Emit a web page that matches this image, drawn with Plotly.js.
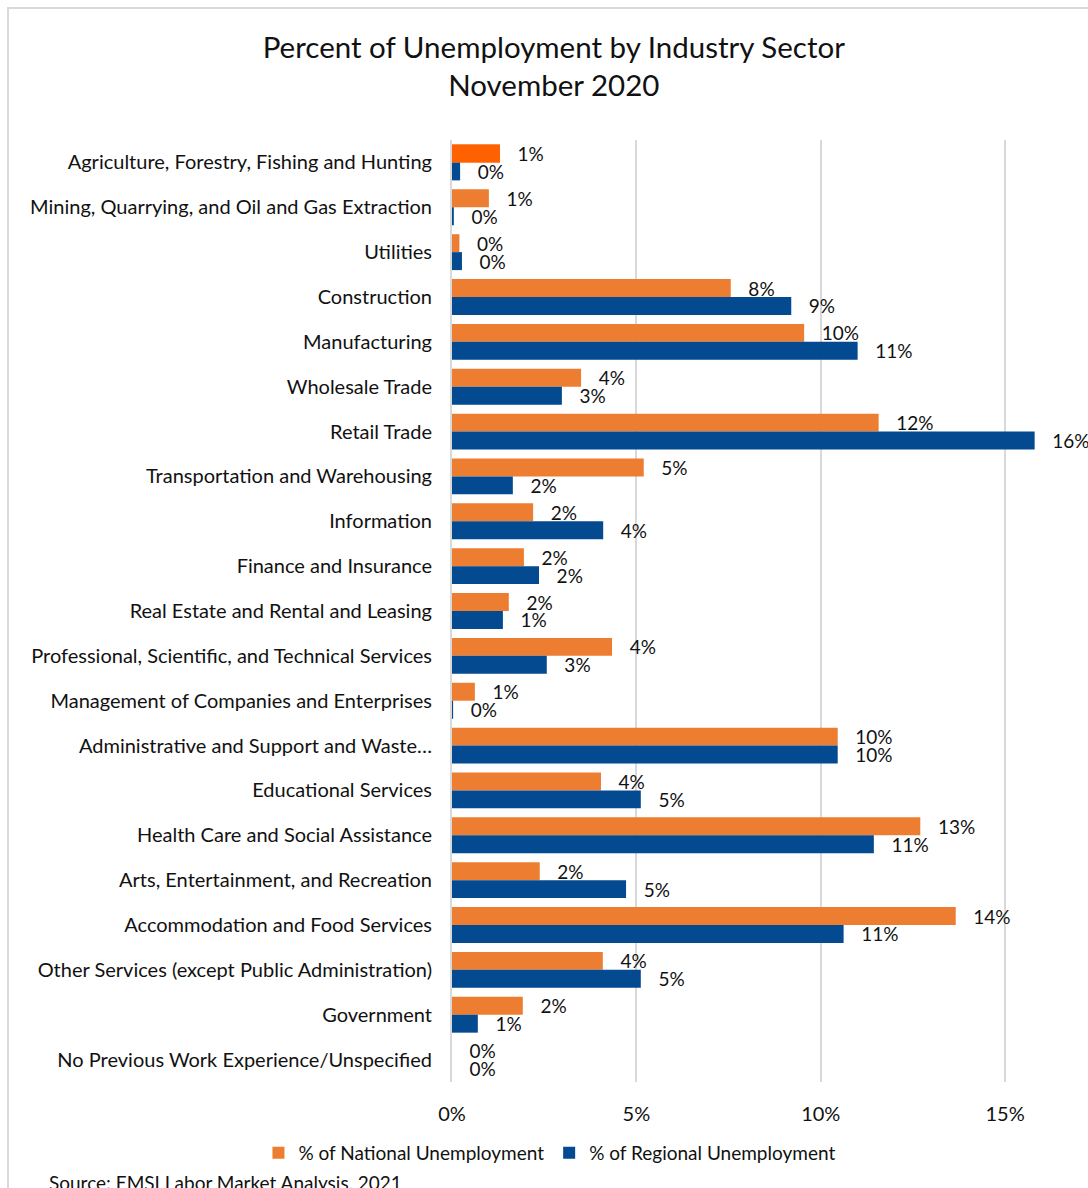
<!DOCTYPE html>
<html>
<head>
<meta charset="utf-8">
<script src="https://cdn.plot.ly/plotly-3.0.1.min.js"></script>
<style>
  html, body { margin: 0; padding: 0; background: #fff; overflow: hidden; }
  #chart { width: 1088px; height: 1188px; }
  #frame { position: absolute; left: 7px; top: 7px; width: 1200px; height: 1300px;
           border: 2px solid #d9d9d9; pointer-events: none; box-sizing: border-box; }
</style>
</head>
<body>
<div id="chart"></div>
<div id="frame"></div>
<script>
const categories = [
  "Agriculture, Forestry, Fishing and Hunting",
  "Mining, Quarrying, and Oil and Gas Extraction",
  "Utilities",
  "Construction",
  "Manufacturing",
  "Wholesale Trade",
  "Retail Trade",
  "Transportation and Warehousing",
  "Information",
  "Finance and Insurance",
  "Real Estate and Rental and Leasing",
  "Professional, Scientific, and Technical Services",
  "Management of Companies and Enterprises",
  "Administrative and Support and Waste\u2026",
  "Educational Services",
  "Health Care and Social Assistance",
  "Arts, Entertainment, and Recreation",
  "Accommodation and Food Services",
  "Other Services (except Public Administration)",
  "Government",
  "No Previous Work Experience/Unspecified"
];

const nationalShare = [
  0.0130, 0.0100, 0.0020, 0.0756, 0.0955, 0.0350, 0.1157, 0.0520, 0.0220, 0.0195,
  0.0154, 0.0434, 0.0062, 0.1046, 0.0404, 0.1270, 0.0238, 0.1366, 0.0409, 0.0192, 0.0000
];

const regionalShare = [
  0.0022, 0.0005, 0.0027, 0.0920, 0.1100, 0.0298, 0.1580, 0.0165, 0.0410, 0.0236,
  0.0138, 0.0257, 0.0003, 0.1046, 0.0512, 0.1144, 0.0472, 0.1062, 0.0512, 0.0070, 0.0000
];

// index of the highlighted (selected) bar in the national series
const highlightIndex = 0;

const xTickVals = [0, 0.05, 0.10, 0.15];
const xTickText = ["0%", "5%", "10%", "15%"];

const seriesNames = ["% of National Unemployment", "% of Regional Unemployment"];

const orange = "#ED7D31";
const highlight = "#FF6000";
const blue = "#034A91";

const FONT = "Lato, 'Open Sans', sans-serif";
const pad = "\u00a0\u00a0\u00a0";
const labelFont = { family: FONT, size: 19, color: "#111" };

const traces = [
  {
    type: "bar", orientation: "h", name: seriesNames[0], offsetgroup: "nat",
    y: categories, x: nationalShare,
    marker: { color: orange },
    texttemplate: pad + "%{x:.0%}", textposition: "outside", constraintext: "none",
    textfont: labelFont, cliponaxis: false, hoverinfo: "skip"
  },
  {
    type: "bar", orientation: "h", name: seriesNames[1], offsetgroup: "reg",
    y: categories, x: regionalShare,
    marker: { color: blue },
    texttemplate: pad + "%{x:.0%}", textposition: "outside", constraintext: "none",
    textfont: labelFont, cliponaxis: false, hoverinfo: "skip"
  },
  {
    type: "bar", orientation: "h", name: "highlight", offsetgroup: "nat", showlegend: false,
    y: categories, x: nationalShare.map((v, i) => i === highlightIndex ? v : null),
    marker: { color: highlight }, hoverinfo: "skip", textposition: "none"
  }
];

const layout = {
  width: 1088, height: 1188,
  margin: { l: 452, r: 46, t: 139.5, b: 105.5, pad: 0 },
  paper_bgcolor: "#fff", plot_bgcolor: "#fff",
  font: { family: FONT, color: "#111", size: 20 },
  title: {
    text: "Percent of Unemployment by Industry Sector<br>November 2020",
    font: { family: FONT, size: 29.5, color: "#111" },
    x: 0.509, xanchor: "center", xref: "container",
    y: 1 - 58 / 1188, yanchor: "middle", yref: "container"
  },
  barmode: "group", bargap: 0.2, bargroupgap: 0,
  showlegend: true,
  legend: {
    orientation: "h", xref: "container", x: 0.505, xanchor: "center",
    yref: "container", y: 1 - 1153 / 1188, yanchor: "middle",
    font: { family: FONT, size: 19, color: "#111" },
    itemwidth: 30, traceorder: "normal"
  },
  xaxis: {
    range: [0, 0.16], tickvals: xTickVals, ticktext: xTickText,
    showgrid: true, gridcolor: "#d9d9d9", gridwidth: 2,
    zeroline: false, showline: false, ticks: "",
    ticklabelstandoff: 18,
    tickfont: { family: FONT, size: 20, color: "#111" },
    fixedrange: true
  },
  yaxis: {
    autorange: "reversed", type: "category",
    showline: true, linecolor: "#d9d9d9", linewidth: 2,
    showgrid: false, ticks: "", ticklabelstandoff: 14,
    tickfont: { family: FONT, size: 20, color: "#111" },
    fixedrange: true
  },
  annotations: [
    {
      text: "Source: EMSI Labor Market Analysis, 2021",
      xref: "paper", x: (47 - 452) / 590, xanchor: "left",
      yref: "paper", y: (1082.5 - 1183) / 943, yanchor: "middle",
      showarrow: false,
      font: { family: FONT, size: 19, color: "#111" }
    }
  ]
};

Plotly.newPlot("chart", traces, layout, { displayModeBar: false, staticPlot: true });
</script>
</body>
</html>
